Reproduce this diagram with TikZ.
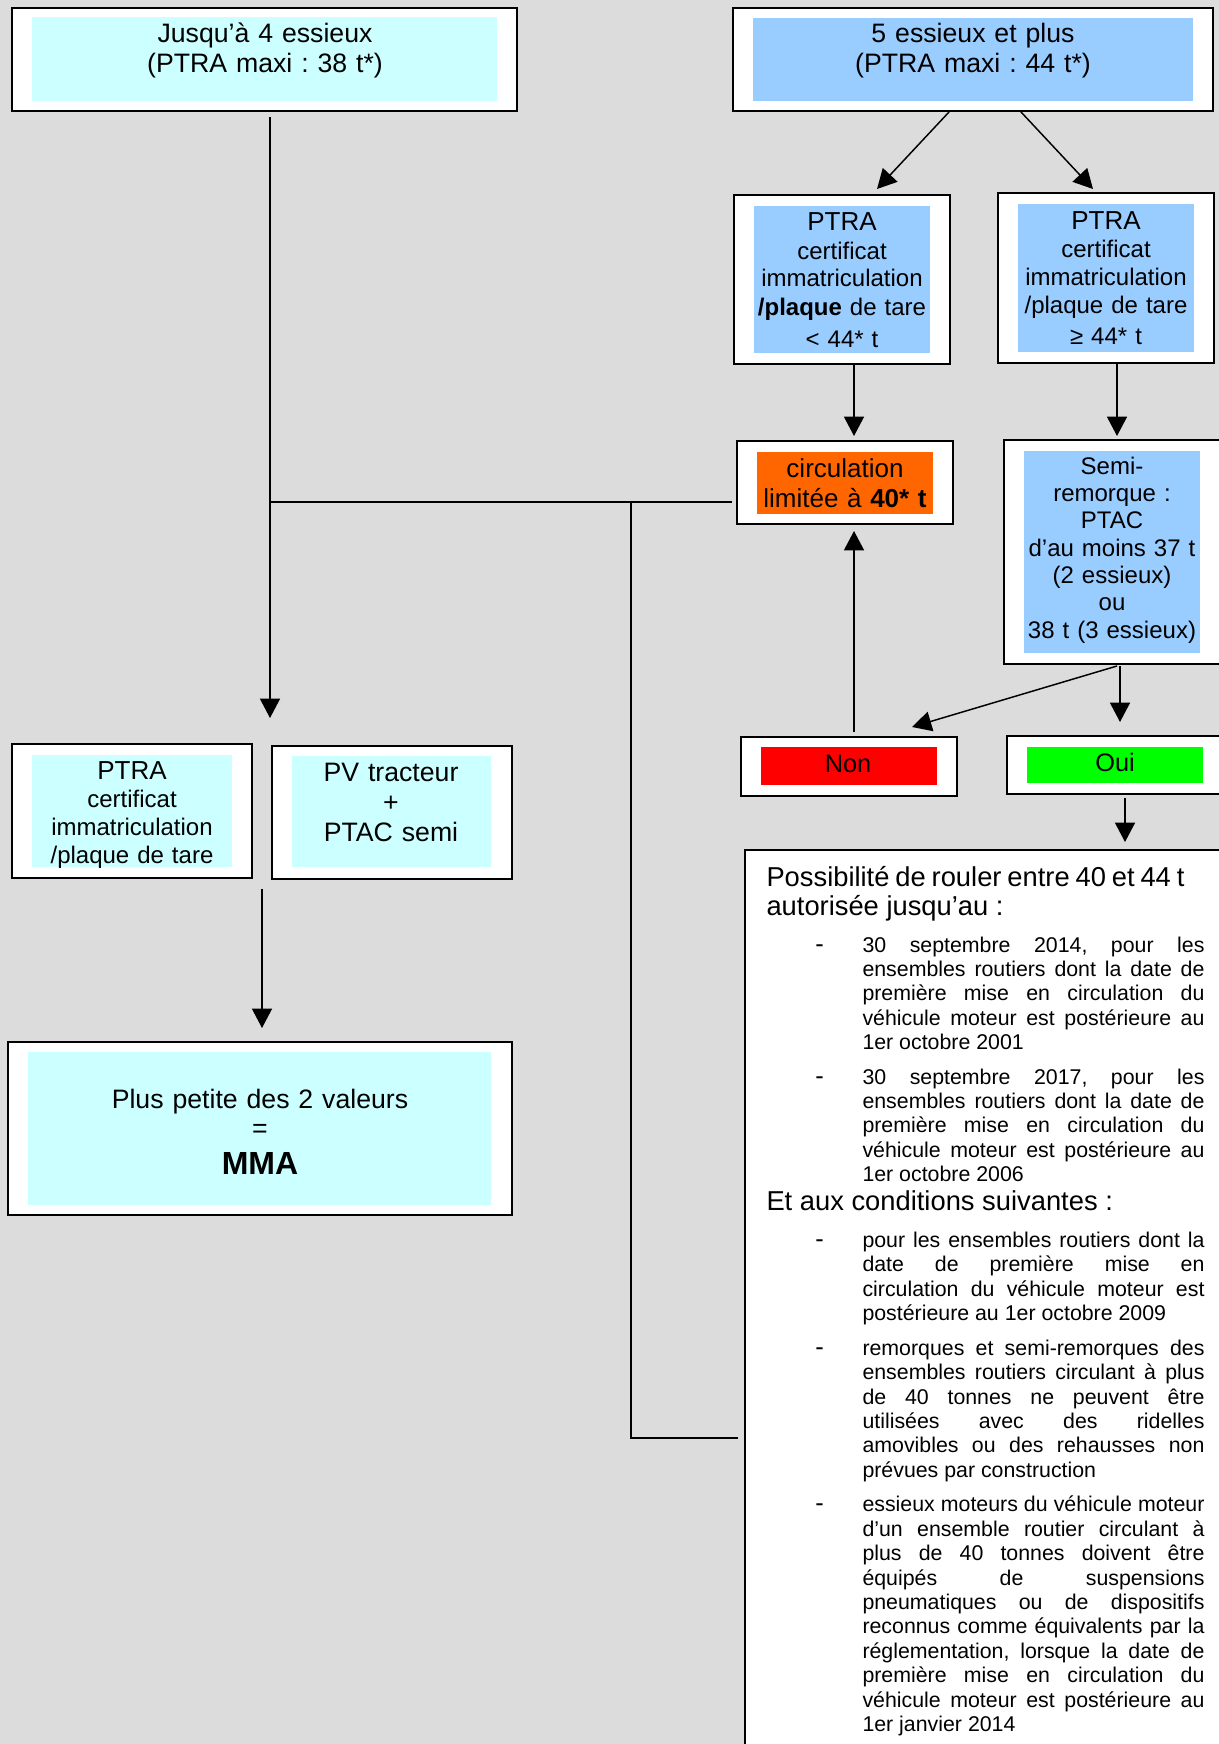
\documentclass[tikz,border=0pt]{standalone}
\usepackage{fontspec}
\setmainfont{Liberation Sans}
\usetikzlibrary{arrows.meta,calc,fit}
\frenchspacing

\definecolor{fondGris}{RGB}{220,220,220}
\definecolor{cyanPale}{RGB}{204,255,255}
\definecolor{bleuCiel}{RGB}{153,204,255}
\definecolor{orangeVif}{RGB}{255,102,0}
\definecolor{rougeNon}{RGB}{255,0,0}
\definecolor{vertOui}{RGB}{0,255,0}

\tikzset{every picture/.style={line width=0.75pt}}
\tikzset{
  cadre/.style={draw=black, fill=white, line width=1.5pt, inner sep=0pt},
  fond/.style={draw=none, inner sep=0pt},
  texte/.style={inner sep=0pt, align=center, anchor=base},
  fleche/.style={line width=1.1pt, -{Triangle[length=14.5pt,width=15pt]}},
  trait/.style={line width=1.1pt},
}

\newcommand{\tiret}{\noindent\llap{{\fontsize{19}{18}\selectfont -}\hspace{29pt}}}

\begin{document}
\begin{tikzpicture}[x=0.75pt,y=0.75pt,yscale=-1,xscale=1]
\useasboundingbox (0,0) rectangle (1219,1744);
\clip (0,0) rectangle (1219,1744);
\fill [fondGris] (0,0) rectangle (1219,1744);

%Shape: Rectangle
\node [cadre, fit={(12,8) (517,111)}] (quatre) {};
\node [fond, fill=cyanPale, fit={(32,17) (497,101)}] (quatreFond) {};
% Text Node
\node [texte, text width=340pt, font={\fontsize{20}{22}\selectfont}] (quatreTxt) at (265,43) {Jusqu’à 4 essieux\\(PTRA maxi : 38 t*)};

%Shape: Rectangle
\node [cadre, fit={(733,8) (1213,111)}] (cinq) {};
\node [fond, fill=bleuCiel, fit={(753,18) (1193,101)}] (cinqFond) {};
% Text Node
\node [texte, text width=325pt, font={\fontsize{20}{22}\selectfont}] (cinqTxt) at (973,43) {5 essieux et plus\\(PTRA maxi : 44 t*)};

%Shape: Rectangle
\node [cadre, fit={(734,195) (950,364)}] (ptraBas) {};
\node [fond, fill=bleuCiel, fit={(754,206) (930,353)}] (ptraBasFond) {};
% Text Node
\node [texte, text width=132pt, font={\fontsize{18}{21}\selectfont}] (ptraBasTxt) at (842,231) {{\fontsize{19.5}{21}\selectfont PTRA}\\certificat\\immatriculation\\\textbf{/plaque} de tare\\[3.5pt]< 44* t};

%Shape: Rectangle
\node [cadre, fit={(998,193) (1214,363)}] (ptraHaut) {};
\node [fond, fill=bleuCiel, fit={(1018,204) (1194,352)}] (ptraHautFond) {};
% Text Node
\node [texte, text width=132pt, font={\fontsize{18}{21}\selectfont}] (ptraHautTxt) at (1106,229) {{\fontsize{19.5}{21}\selectfont PTRA}\\certificat\\immatriculation\\/plaque de tare\\[2.25pt]≥ 44* t};

%Shape: Rectangle
\node [cadre, fit={(737,441) (953,524)}] (limite) {};
\node [fond, fill=orangeVif, fit={(757,452) (933,514)}] (limiteFond) {};
% Text Node
\node [texte, text width=132pt, font={\fontsize{19.5}{22.5}\selectfont}] (limiteTxt) at (845,477) {circulation\\limitée à \textbf{40* t}};

%Shape: Rectangle
\node [cadre, fit={(1004,440) (1225,664)}] (semi) {};
\node [fond, fill=bleuCiel, fit={(1024,451) (1200,653)}] (semiFond) {};
% Text Node
\node [texte, text width=132pt, font={\fontsize{18}{20.5}\selectfont}] (semiTxt) at (1112,474) {Semi-\\remorque :\\PTAC\\d’au moins 37 t\\(2 essieux)\\ou\\38 t (3 essieux)};

%Shape: Rectangle
\node [cadre, fit={(741,737) (957,796)}] (non) {};
\node [fond, fill=rougeNon, fit={(761,747) (937,785)}] (nonFond) {};
% Text Node
\node [texte, font={\fontsize{19}{22}\selectfont}] (nonTxt) at (848,772) {Non};

%Shape: Rectangle
\node [cadre, fit={(1007,736) (1225,794)}] (oui) {};
\node [fond, fill=vertOui, fit={(1027,747) (1203,783)}] (ouiFond) {};
% Text Node
\node [texte, font={\fontsize{19}{22}\selectfont}] (ouiTxt) at (1115,771) {Oui};

%Shape: Rectangle
\node [cadre, fit={(12,744) (252,878)}] (ptraGauche) {};
\node [fond, fill=cyanPale, fit={(32,755) (232,867)}] (ptraGaucheFond) {};
% Text Node
\node [texte, text width=148pt, font={\fontsize{18}{21}\selectfont}] (ptraGaucheTxt) at (132,779) {{\fontsize{19.5}{21}\selectfont PTRA}\\certificat\\immatriculation\\/plaque de tare};

%Shape: Rectangle
\node [cadre, fit={(272,746) (512,879)}] (pvTract) {};
\node [fond, fill=cyanPale, fit={(292,756) (491,867)}] (pvTractFond) {};
% Text Node
\node [texte, text width=148pt, font={\fontsize{20}{22.5}\selectfont}] (pvTractTxt) at (391,781) {PV tracteur\\+\\PTAC semi};

%Shape: Rectangle
\node [cadre, fit={(8,1042) (512,1215)}] (mma) {};
\node [fond, fill=cyanPale, fit={(28,1052) (491,1205)}] (mmaFond) {};
% Text Node
\node [texte, text width=340pt, font={\fontsize{20}{21.75}\selectfont}] (mmaTxt) at (260,1108) {Plus petite des 2 valeurs\\=\\[6pt]{\bfseries\fontsize{24}{27}\selectfont MMA}};

%Shape: Rectangle
\node [cadre, fit={(745,850) (1225,1760)}] (possib) {};
% Text Node
\node [inner sep=0pt, anchor=base west, text width=328.5pt, align=justify] (possibTxt) at (766,886) {%
\parindent=0pt\parskip=0pt\hyphenpenalty=10000\exhyphenpenalty=10000\tolerance=10000\hbadness=10000%
{\fontsize{20.5}{22}\selectfont\rightskip=15pt Possibilité de rouler entre 40 et 44 t\linebreak autorisée jusqu’au :\par}%
\vspace{9.2pt}%
{\fontsize{16}{18.3}\selectfont\leftskip=72pt
\tiret 30 septembre 2014, pour les\linebreak ensembles routiers dont la date de\linebreak première mise en circulation du\linebreak véhicule moteur est postérieure au\linebreak 1er octobre 2001\par
\vspace{7.6pt}%
\tiret 30 septembre 2017, pour les\linebreak ensembles routiers dont la date de\linebreak première mise en circulation du\linebreak véhicule moteur est postérieure au\linebreak 1er octobre 2006\par}%
{\fontsize{20.5}{21.6}\selectfont Et aux conditions suivantes :\par}%
\vspace{9.45pt}%
{\fontsize{16}{18.3}\selectfont\leftskip=72pt
\tiret pour les ensembles routiers dont la\linebreak date de première mise en\linebreak circulation du véhicule moteur est\linebreak postérieure au 1er octobre 2009\par
\vspace{7.6pt}%
\tiret remorques et semi-remorques des\linebreak ensembles routiers circulant à plus\linebreak de 40 tonnes ne peuvent être\linebreak utilisées avec des ridelles\linebreak amovibles ou des rehausses non\linebreak prévues par construction\par
\vspace{7.6pt}%
\tiret essieux moteurs du véhicule moteur\linebreak d’un ensemble routier circulant à\linebreak plus de 40 tonnes doivent être\linebreak équipés de suspensions\linebreak pneumatiques ou de dispositifs\linebreak reconnus comme équivalents par la\linebreak réglementation, lorsque la date de\linebreak première mise en circulation du\linebreak véhicule moteur est postérieure au\linebreak 1er janvier 2014\par}%
};

%Straight Lines
\coordinate (flecheG) at (270,718);
\draw [fleche] ($(quatre.south)+(5.5,5)$) -- (flecheG);
%Straight Lines
\coordinate (noeudA) at (270,502);
\draw [trait] (noeudA) -- ($(noeudA -| limite.west)+(-4,0)$);
%Straight Lines
\coordinate (noeudB) at (631,502);
\coordinate (noeudC) at (631,1438);
\draw [trait] (noeudB) -- (noeudC) -- ($(noeudC -| possib.west)+(-6,0)$);
%Straight Lines
\draw [fleche] ($(cinq.south)+(-24,0)$) -- ($(ptraBas.north)+(35,-5)$);
\draw [fleche] ($(cinq.south)+(48,0)$) -- ($(ptraHaut.north)+(-13,-3)$);
%Straight Lines
\draw [fleche] ($(ptraBas.south)+(12,0)$) -- ($(limite.north)+(9,-4)$);
\draw [fleche] ($(ptraHaut.south)+(11,0)$) -- ($(semi.north)+(2.5,-3)$);
%Straight Lines
\draw [fleche] ($(semi.south)+(2.5,1)$) -- ($(non.north)+(63,-9)$);
\draw [fleche] ($(semi.south)+(5.5,1)$) -- ($(oui.north)+(4,-13)$);
%Straight Lines
\draw [fleche] ($(non.north)+(5,-4)$) -- ($(limite.south)+(9,6)$);
\draw [fleche] ($(oui.south)+(9,3)$) -- ($(possib.north)+(140,-7)$);
%Straight Lines
\draw [fleche] ($(ptraGauche.south east)!0.5!(pvTract.south west)+(0,9)$) -- ($(mma.north)+(2,-13)$);

\end{tikzpicture}
\end{document}
